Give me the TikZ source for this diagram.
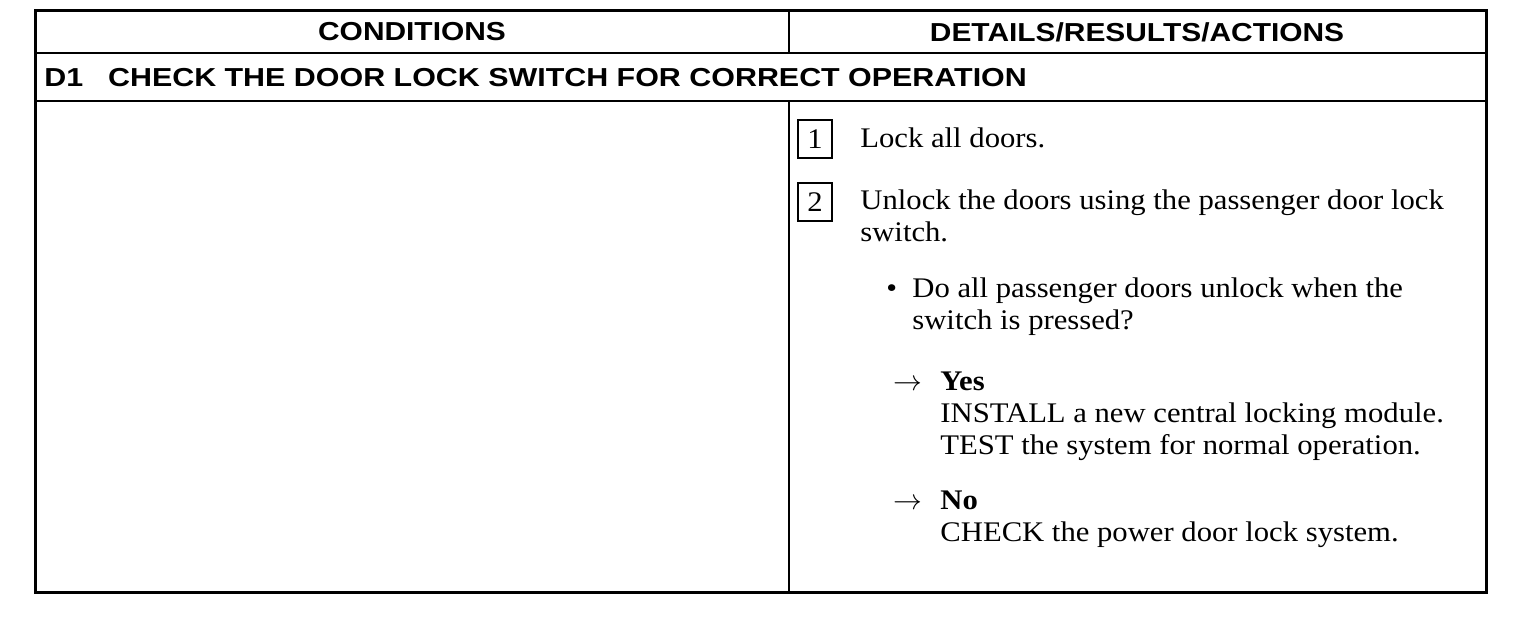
\documentclass[tikz,border=0pt]{standalone}
\usepackage{fontspec}
\usetikzlibrary{positioning}
\newfontfamily\headfont[FakeStretch=1.15]{Liberation Sans}
\newfontfamily\titlefont[FakeStretch=1.17]{Liberation Sans}
\newfontfamily\bodyfont[FakeStretch=1.08]{Liberation Serif}

\begin{document}
\begin{tikzpicture}[x=0.5pt, y=-0.5pt,
    head/.style={font=\headfont\bfseries\fontsize{13pt}{15pt}\selectfont, inner sep=0pt},
    title/.style={font=\titlefont\bfseries\fontsize{13pt}{15pt}\selectfont, inner sep=0pt},
    body/.style={font=\bodyfont\fontsize{14.2pt}{16pt}\selectfont, inner sep=0pt, anchor=base west},
    numbox/.style={draw, line width=0.6pt, minimum width=17pt, minimum height=19pt, inner sep=0pt,
                   font=\bodyfont\fontsize{14.2pt}{16pt}\selectfont},
    rule/.style={line width=1.2pt}]

    \useasboundingbox (0,0) rectangle (1520,634);

    % Define corners of the table and the column split
    \coordinate (TL) at (35, 10);
    \coordinate (BR) at (1486, 592);
    \coordinate (H1) at (35, 53);
    \coordinate (H2) at (35, 101);
    \coordinate (S1) at (789, 10);
    \coordinate (S2) at (789, 53);
    \coordinate (S3) at (789, 101);
    \coordinate (S4) at (789, 592);

    % Draw the frame
    \draw[line width=1.5pt] (TL) rectangle (BR);

    % Draw row and column lines
    \draw[rule] (H1) -- (H1 -| BR);
    \draw[rule] (H2) -- (H2 -| BR);
    \draw[rule] (S1) -- (S2);
    \draw[rule] (S3) -- (S4);

    % Column headings
    \node[head] (cond) at (412, 32) {CONDITIONS};
    \node[head] (dtls) at (1137, 32) {DETAILS/RESULTS/ACTIONS};

    % Step heading
    \node[title, anchor=base west] (dnum) at (44, 86) {D1};
    \node[title, base right=12pt of dnum] (dtitle) {CHECK THE DOOR LOCK SWITCH FOR CORRECT OPERATION};

    % Steps 1 and 2
    \node[numbox] (box1) at (815, 139) {1};
    \node[body] (lock) at (860, 147) {Lock all doors.};
    \node[numbox] (box2) at (815, 202) {2};
    \node[body] (unlock) at (860, 209) {Unlock the doors using the passenger door lock};
    \node[body] (unlockB) at (860, 241) {switch.};

    % Question
    \node[body] (dot) at (886, 297) {\textbullet};
    \node[body] (ask) at (912, 297) {Do all passenger doors unlock when the};
    \node[body] (askB) at (912, 329) {switch is pressed?};

    % Answers
    \node[body] (arrYes) at (893, 390) {$\rightarrow$};
    \node[body] (yes) at (940, 390) {\textbf{Yes}};
    \node[body] (yesA) at (940, 422) {INSTALL a new central locking module.};
    \node[body] (yesB) at (940, 454) {TEST the system for normal operation.};
    \node[body] (arrNo) at (893, 509) {$\rightarrow$};
    \node[body] (no) at (940, 509) {\textbf{No}};
    \node[body] (noA) at (940, 541) {CHECK the power door lock system.};

\end{tikzpicture}
\end{document}
